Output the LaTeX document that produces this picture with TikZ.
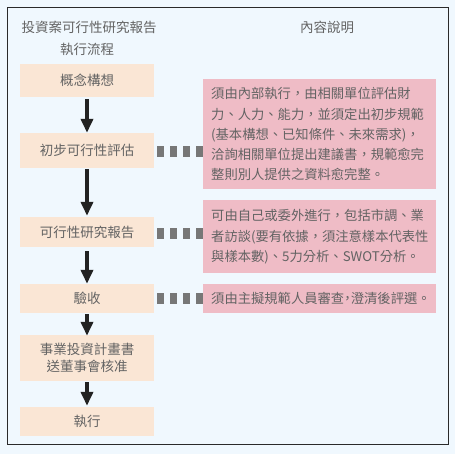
\documentclass[tikz,border=0pt]{standalone}
\usepackage{fontspec}
\newfontfamily\cjk{Noto Sans CJK TC}
\usetikzlibrary{arrows.meta,calc}
\definecolor{bgc}{HTML}{F0F8FE}
\definecolor{framec}{HTML}{2A2A2A}
\definecolor{peach}{HTML}{FAE6D5}
\definecolor{pinkc}{HTML}{EFBCC6}
\definecolor{txtc}{HTML}{636363}
\definecolor{dashc}{HTML}{777777}
\definecolor{arrowc}{HTML}{222222}
\newcommand\hcomma{{\addfontfeature{RawFeature=+halt}，}}
\tikzset{
  stepbox/.style={fill=peach, minimum width=134pt, inner sep=0pt, text=txtc,
    font=\cjk\fontsize{13.5}{17}\selectfont, align=center},
  descbox/.style={fill=pinkc, anchor=north west, inner xsep=8pt, inner ysep=0pt,
    text width=217pt, align=left, text=txtc,
    font=\cjk\fontsize{13.3}{20.25}\selectfont},
  headtext/.style={text=txtc, font=\cjk\fontsize{13.5}{17}\selectfont, inner sep=0pt},
  flowarrow/.style={draw=arrowc, line width=4pt, -{Triangle[width=12pt,length=14pt]}},
  dashline/.style={draw=dashc, line width=11pt, dash pattern=on 7pt off 6pt}
}
\begin{document}
\begin{tikzpicture}[x=1pt,y=-1pt]
\useasboundingbox (0,0) rectangle (455,454);
\fill[bgc] (0,0) rectangle (455,454);
\draw[framec, line width=1pt] (7.5,7.5) rectangle (448,444);

\node[headtext] (h1) at (89,27) {投資案可行性研究報告};
\node[headtext] (h2) at (87,49) {執行流程};
\node[headtext] (h3) at (327,27) {內容說明};

\node[stepbox, minimum height=33pt] (b1) at (87,80.5) {概念構想};
\node[stepbox, minimum height=35pt] (b2) at (87,150.5) {初步可行性評估};
\node[stepbox, minimum height=30pt] (b3) at (87,232) {可行性研究報告};
\node[stepbox, minimum height=29pt] (b4) at (87,298.5) {驗收};
\node[stepbox, minimum height=46pt] (b5) at (87,358) {事業投資計畫書\\送董事會核准};
\node[stepbox, minimum height=29pt] (b6) at (87,421.5) {執行};

\node[descbox, minimum height=110pt] (dA) at (203,79) {須由內部執行，由相關單位評估財\\力、人力、能力，並須定出初步規範\\(基本構想、已知條件、未來需求)，\\洽詢相關單位提出建議書，規範愈完\\整則別人提供之資料愈完整。};
\node[descbox, minimum height=73pt] (dB) at (203,200) {可由自己或委外進行，包括市調、業\\者訪談(要有依據，須注意樣本代表性\\與樣本數)、5力分析、SWOT分析。};
\node[descbox, minimum height=29pt] (dC) at (203,284) {須由主擬規範人員審查\hcomma 澄清後評選。};

\draw[flowarrow, shorten <=2pt] (b1) -- (b2);
\draw[flowarrow, shorten <=1pt, shorten >=1pt] (b2) -- (b3);
\draw[flowarrow, shorten <=4pt] (b3) -- (b4);
\draw[flowarrow, shorten <=1pt, shorten >=-1pt] (b4) -- (b5);
\draw[flowarrow, shorten <=1pt, shorten >=1pt] (b5) -- (b6);

\draw[dashline] ($(b2.east)+(3,1.5)$) -- ($(b2.east -| dA.west)+(0,1.5)$);
\draw[dashline] ($(b3.east)+(3,2)$) -- ($(b3.east -| dB.west)+(0,2)$);
\draw[dashline] ($(b4.east)+(3,0.5)$) -- ($(b4.east -| dC.west)+(0,0.5)$);
\end{tikzpicture}
\end{document}
